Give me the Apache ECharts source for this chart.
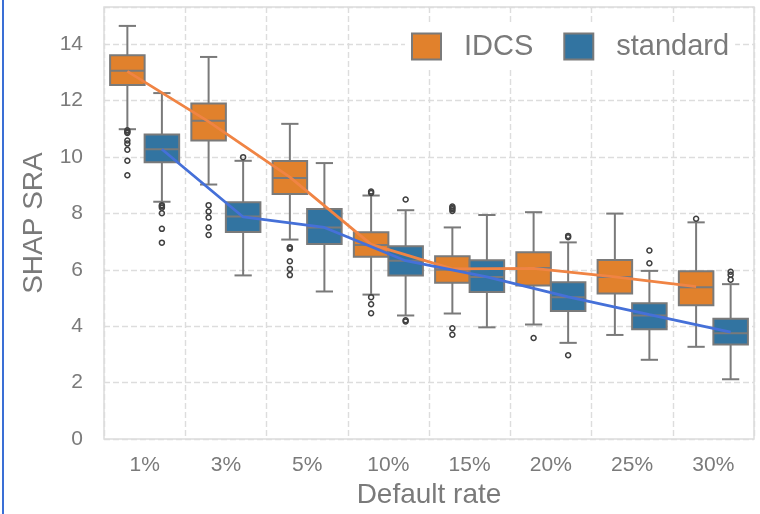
<!DOCTYPE html>
<html>
<head>
<meta charset="utf-8">
<script src="https://cdn.jsdelivr.net/npm/echarts@6/dist/echarts.min.js"></script>
<style>
html,body{margin:0;padding:0;background:#fff;}
#chart{width:760px;height:514px;}
</style>
</head>
<body>
<div id="chart"></div>
<script>
// ---- data ----
const categories = ['1%', '3%', '5%', '10%', '15%', '20%', '25%', '30%'];
// [lower whisker, Q1, median, Q3, upper whisker]
const idcsBoxes = [
  [10.98, 12.55, 13.05, 13.60, 14.64],
  [9.02, 10.58, 11.28, 11.89, 13.54],
  [7.07, 8.68, 9.25, 9.85, 11.17],
  [5.12, 6.46, 6.88, 7.33, 8.63],
  [4.45, 5.54, 6.00, 6.48, 7.50],
  [4.06, 5.44, 6.06, 6.62, 8.04],
  [3.69, 5.16, 5.74, 6.35, 7.99],
  [3.27, 4.74, 5.38, 5.95, 7.68]
];
const standardBoxes = [
  [8.41, 9.81, 10.27, 10.79, 12.26],
  [5.80, 7.34, 7.89, 8.39, 9.86],
  [5.23, 6.91, 7.50, 8.15, 9.78],
  [4.38, 5.80, 6.32, 6.83, 8.11],
  [3.96, 5.21, 5.74, 6.34, 7.94],
  [3.41, 4.54, 5.03, 5.56, 6.97],
  [2.81, 3.89, 4.38, 4.81, 5.96],
  [2.12, 3.35, 3.75, 4.26, 5.49]
];
// outliers: [category index, value]
const idcsOutliers = [
  [0, 10.94], [0, 10.89], [0, 10.85], [0, 10.58], [0, 10.47], [0, 10.25], [0, 9.86], [0, 9.35],
  [1, 8.29], [1, 8.06], [1, 7.85], [1, 7.50], [1, 7.23],
  [2, 6.80], [2, 6.75], [2, 6.30], [2, 6.03], [2, 5.81],
  [3, 8.77], [3, 8.72], [3, 5.03], [3, 4.78], [3, 4.46],
  [4, 8.24], [4, 8.19], [4, 8.14], [4, 8.08], [4, 3.93], [4, 3.70],
  [5, 3.58],
  [7, 7.81]
];
const standardOutliers = [
  [0, 8.29], [0, 8.25], [0, 8.20], [0, 8.00], [0, 7.45], [0, 6.96],
  [1, 9.99],
  [3, 8.49], [3, 4.21], [3, 4.17],
  [5, 7.20], [5, 7.15], [5, 2.97],
  [6, 6.68], [6, 6.23],
  [7, 5.93], [7, 5.82], [7, 5.65]
];
// lines through the group centres
const idcsLine = [13.03, 11.25, 9.28, 6.90, 6.03, 6.05, 5.75, 5.40];
const standardLine = [10.27, 7.87, 7.50, 6.32, 5.75, 5.04, 4.41, 3.79];
const yTicks = [0, 2, 4, 6, 8, 10, 12, 14];

// ---- style ----
const FONT = 'Liberation Sans, Arial, Helvetica, sans-serif';
const TEXT = '#7a7a7a';
const EDGE = '#7a7a7a';
const ORANGE = '#e1812c';
const BLUE = '#3274a1';
const BOX_W = 0.425;          // box width as share of a category band
const DODGE = BOX_W / 2;      // centre offset of each hue

function boxRenderer(offset, fill) {
  return function (params, api) {
    const i = api.value(0);
    const lo = api.value(1), q1 = api.value(2), md = api.value(3), q3 = api.value(4), hi = api.value(5);
    const band = api.size([1, 0])[0];
    const half = band * BOX_W / 2;
    const cx = api.coord([i + offset, 0])[0];
    const y = v => api.coord([i + offset, v])[1];
    const capHalf = half / 2;
    const ls = { stroke: EDGE, lineWidth: 2 };
    return {
      type: 'group',
      children: [
        { type: 'line', shape: { x1: cx, y1: y(lo), x2: cx, y2: y(q1) }, style: ls },
        { type: 'line', shape: { x1: cx, y1: y(q3), x2: cx, y2: y(hi) }, style: ls },
        { type: 'line', shape: { x1: cx - capHalf, y1: y(lo), x2: cx + capHalf, y2: y(lo) }, style: ls },
        { type: 'line', shape: { x1: cx - capHalf, y1: y(hi), x2: cx + capHalf, y2: y(hi) }, style: ls },
        { type: 'rect', shape: { x: cx - half, y: y(q3), width: half * 2, height: y(q1) - y(q3) },
          style: { fill: fill, stroke: EDGE, lineWidth: 2 } },
        { type: 'line', shape: { x1: cx - half, y1: y(md), x2: cx + half, y2: y(md) }, style: ls }
      ]
    };
  };
}

const chart = echarts.init(document.getElementById('chart'), null, { renderer: 'canvas' });
const dashed = { show: true, lineStyle: { color: '#dddddd', width: 1.4, type: [6, 3] } };

chart.setOption({
  animation: false,
  backgroundColor: '#ffffff',
  textStyle: { fontFamily: FONT },
  graphic: [
    { type: 'rect', left: 2, top: 0, shape: { width: 2, height: 514 }, style: { fill: '#3a6fd6' }, silent: true }
  ],
  grid: { left: 104, right: 6, top: 7, bottom: 71, show: true, borderColor: '#dcdcdc', borderWidth: 1.5 },
  legend: {
    data: [
      { name: 'IDCS', itemStyle: { color: ORANGE } },
      { name: 'standard', itemStyle: { color: BLUE } }
    ],
    left: 405, top: 24,
    padding: [8, 6, 8, 6],
    backgroundColor: '#ffffff',
    icon: 'rect',
    itemWidth: 29, itemHeight: 26, itemGap: 30,
    selectedMode: false,
    itemStyle: { borderColor: EDGE, borderWidth: 2 },
    formatter: name => '{t|' + name + '}',
    textStyle: {
      color: TEXT, fontSize: 29, fontFamily: FONT,
      rich: { t: { color: TEXT, fontSize: 29, fontFamily: FONT, padding: [0, 0, 0, 18] } }
    }
  },
  xAxis: [
    {
      type: 'category', data: categories, boundaryGap: true,
      axisLine: { show: false }, axisTick: { show: false },
      axisLabel: { color: TEXT, fontSize: 21, margin: 16, fontFamily: FONT },
      splitLine: dashed,
      name: 'Default rate', nameLocation: 'middle', nameGap: 39,
      nameTextStyle: { color: TEXT, fontSize: 28, fontFamily: FONT }
    },
    { type: 'value', min: -0.5, max: 7.5, show: false }
  ],
  yAxis: {
    type: 'value', min: 0, max: 15.31, interval: 2,
    axisLine: { show: false }, axisTick: { show: false },
    axisLabel: {
      color: TEXT, fontSize: 21, margin: 21, fontFamily: FONT,
      formatter: v => (yTicks.indexOf(v) >= 0 ? String(v) : '')
    },
    splitLine: dashed,
    name: 'SHAP SRA', nameLocation: 'middle', nameGap: 55,
    nameTextStyle: { color: TEXT, fontSize: 28, fontFamily: FONT }
  },
  series: [
    {
      name: 'IDCS', type: 'custom', xAxisIndex: 1, z: 2,
      itemStyle: { color: ORANGE, borderColor: EDGE, borderWidth: 2 },
      renderItem: boxRenderer(-DODGE, ORANGE),
      encode: { x: 0, y: [1, 2, 3, 4, 5] },
      data: idcsBoxes.map((b, i) => [i].concat(b))
    },
    {
      name: 'standard', type: 'custom', xAxisIndex: 1, z: 2,
      itemStyle: { color: BLUE, borderColor: EDGE, borderWidth: 2 },
      renderItem: boxRenderer(DODGE, BLUE),
      encode: { x: 0, y: [1, 2, 3, 4, 5] },
      data: standardBoxes.map((b, i) => [i].concat(b))
    },
    {
      name: 'IDCS outliers', type: 'scatter', xAxisIndex: 1, z: 3,
      symbol: 'circle', symbolSize: 5,
      itemStyle: { color: 'rgba(255,255,255,0)', borderColor: '#404040', borderWidth: 1.5, opacity: 1 },
      data: idcsOutliers.map(p => [p[0] - DODGE, p[1]])
    },
    {
      name: 'standard outliers', type: 'scatter', xAxisIndex: 1, z: 3,
      symbol: 'circle', symbolSize: 5,
      itemStyle: { color: 'rgba(255,255,255,0)', borderColor: '#404040', borderWidth: 1.5, opacity: 1 },
      data: standardOutliers.map(p => [p[0] + DODGE, p[1]])
    },
    {
      name: 'IDCS trend', type: 'line', xAxisIndex: 1, z: 5,
      symbol: 'none', lineStyle: { color: '#f08444', width: 2.8 },
      data: idcsLine.map((v, i) => [i - DODGE, v])
    },
    {
      name: 'standard trend', type: 'line', xAxisIndex: 1, z: 5,
      symbol: 'none', lineStyle: { color: '#4570d8', width: 2.8 },
      data: standardLine.map((v, i) => [i + DODGE, v])
    }
  ]
});
</script>
</body>
</html>
